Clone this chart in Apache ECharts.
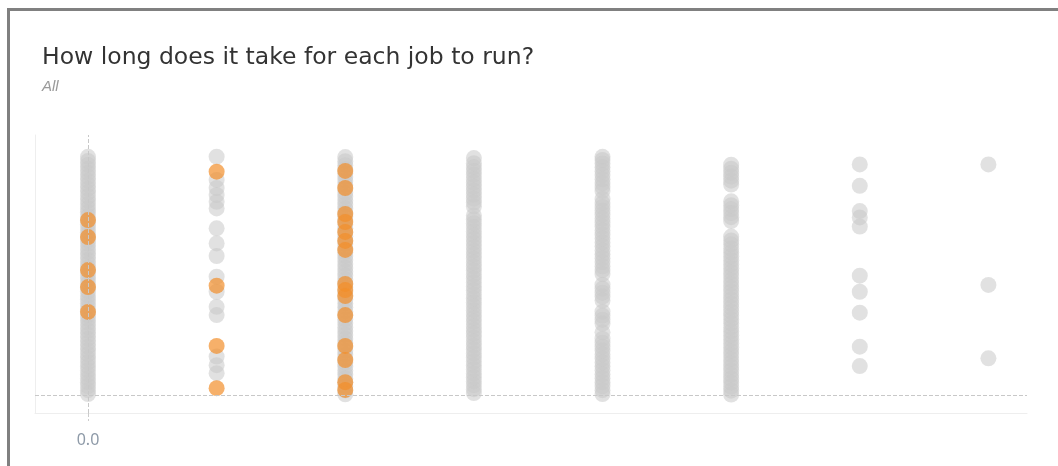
<!DOCTYPE html>
<html>
<head>
<meta charset="utf-8">
<script src="https://cdn.jsdelivr.net/npm/echarts@6/dist/echarts.min.js"></script>
<style>
  html, body { margin: 0; padding: 0; background: #fff; }
  .frame {
    position: absolute; left: 7px; top: 8px; width: 1051px; height: 458px;
    border-top: 3px solid #808080; border-left: 3px solid #808080;
  }
  #main { position: absolute; left: 0; top: 0; width: 1058px; height: 466px; }
</style>
</head>
<body>
<div class="frame"></div>
<div id="main"></div>
<script>
// job index per column (x axis), run time values (y axis)
const jobs = [0, 1, 2, 3, 4, 5, 6, 7]

// grey dots: all runs of each job
const grey0 = [0.4, 2, 3.7, 5.3, 6.9, 8.5, 10.2, 11.8, 13.4, 15, 16.7, 18.3, 19.9, 21.5, 23.2, 24.8, 26.4, 28, 29.7, 31.3, 32.9, 34.5, 36.2, 37.8, 39.4, 41, 42.7, 44.3, 45.9, 47.5, 49.2, 50.8, 52.4, 54, 55.7, 57.3, 58.9, 60.5, 62.2, 63.8, 65.4, 67, 68.7, 70.3, 71.9, 73.5, 75.2, 76.8, 78.4, 80, 81.7, 83.3, 84.9, 86.5, 88.2, 89.8, 91.4, 93, 94.7, 96.3, 98]
const grey1 = [98.1, 88.5, 85.2, 82.3, 79.5, 76.8, 68.6, 62.4, 57.2, 48.7, 42.5, 36.3, 32.9, 15.8, 12.3, 9]
const grey2 = [0.3, 1.9, 3.6, 5.2, 6.8, 8.4, 10.1, 11.7, 13.3, 14.9, 16.6, 18.2, 19.8, 21.4, 23.1, 24.7, 26.3, 27.9, 29.6, 31.2, 32.8, 34.4, 36.1, 37.7, 39.3, 40.9, 42.6, 44.2, 45.8, 47.4, 49.1, 50.7, 52.3, 53.9, 55.6, 57.2, 58.8, 60.4, 62.1, 63.7, 65.3, 66.9, 68.6, 70.2, 71.8, 73.4, 75.1, 76.7, 78.3, 79.9, 81.6, 83.2, 84.8, 86.4, 88.1, 89.7, 91.3, 92.9, 94.6, 96.2, 97.9]
const grey3 = [0.8, 2.4, 4.1, 5.7, 7.3, 8.9, 10.6, 12.2, 13.8, 15.4, 17.1, 18.7, 20.3, 21.9, 23.6, 25.2, 26.8, 28.4, 30.1, 31.7, 33.3, 34.9, 36.6, 38.2, 39.8, 41.4, 43.1, 44.7, 46.3, 47.9, 49.6, 51.2, 52.8, 54.4, 56.1, 57.7, 59.3, 60.9, 62.6, 64.2, 65.8, 67.4, 69.1, 70.7, 72.3, 73.9, 77.6, 79.2, 80.8, 82.4, 84.1, 85.7, 87.3, 88.9, 90.6, 92.2, 93.8, 95.4, 97.5]
const grey4 = [0.4, 2, 3.7, 5.3, 6.9, 8.5, 10.2, 11.8, 13.4, 15, 16.7, 18.3, 19.9, 21.5, 23.2, 25.8, 29.4, 31, 32.7, 34.3, 38.9, 40.5, 42.1, 43.8, 45.4, 49.8, 51.4, 53, 54.7, 56.3, 57.9, 59.5, 61.2, 62.8, 64.4, 66, 67.7, 69.3, 70.9, 72.5, 74.2, 75.8, 77.4, 79, 80.7, 84, 85.6, 87.2, 88.8, 90.5, 92.1, 93.7, 95.3, 96.7, 98]
const grey5 = [0.2, 1.8, 3.5, 5.1, 6.7, 8.3, 10, 11.6, 13.2, 14.8, 16.5, 18.1, 19.7, 21.3, 23, 24.6, 26.2, 27.8, 29.5, 31.1, 32.7, 34.3, 36, 37.6, 39.2, 40.8, 42.5, 44.1, 45.7, 47.3, 49, 50.6, 52.2, 53.8, 55.5, 57.1, 58.7, 60.3, 62, 63.6, 65.2, 71.6, 73.2, 74.9, 76.5, 78.1, 79.7, 86.6, 88.2, 89.9, 91.5, 93.1, 94.8]
const grey6 = [94.9, 86.1, 75.7, 73.1, 69.3, 49.1, 42.5, 33.9, 19.9, 11.9]
const grey7 = [94.9, 45.3, 15.1]

// orange dots: highlighted runs
const orange0 = [72, 65, 51.4, 44.4, 34.2]
const orange1 = [91.9, 45, 20.2, 2.8]
const orange2 = [92.2, 85.2, 74.5, 71.2, 67.1, 63.4, 59.7, 45.7, 43.2, 40.7, 32.9, 20.2, 14.4, 5.3, 2.1]

const greyCols = [grey0, grey1, grey2, grey3, grey4, grey5, grey6, grey7]
const orangeCols = [orange0, orange1, orange2]

function points(cols) {
  const out = []
  cols.forEach((vals, i) => {
    vals.forEach(v => out.push([jobs[i], v]))
  })
  return out
}

const chart = echarts.init(document.getElementById('main'))
chart.setOption({
  animation: false,
  title: {
    text: 'How long does it take for each job to run?',
    subtext: 'All',
    left: 37,
    top: 41,
    itemGap: 9,
    textStyle: { fontFamily: 'DejaVu Sans', fontSize: 23.5, fontWeight: 'normal', color: '#333' },
    subtextStyle: { fontFamily: 'Liberation Sans', fontSize: 15, fontStyle: 'italic', color: '#9a9a9a' }
  },
  grid: { left: 35, right: 31, top: 135, bottom: 53 },
  xAxis: {
    type: 'value',
    min: -0.412,
    max: 7.3,
    axisLine: { show: true, onZero: false, lineStyle: { color: '#eeeeee' } },
    axisTick: {
      show: true,
      customValues: [0],
      length: 8,
      lineStyle: { color: '#cccccc', type: 'dashed' }
    },
    axisLabel: {
      customValues: [0],
      formatter: v => v.toFixed(1),
      margin: 19,
      fontFamily: 'Noto Sans',
      fontSize: 16,
      color: '#8e9aa8'
    },
    splitLine: { show: false }
  },
  yAxis: {
    type: 'value',
    min: -7.4,
    max: 107,
    axisLine: { show: true, onZero: false, lineStyle: { color: '#eeeeee' } },
    axisTick: { show: false },
    axisLabel: { show: false },
    splitLine: { show: false }
  },
  series: [
    {
      type: 'scatter',
      symbolSize: 16,
      data: points(greyCols),
      itemStyle: { color: '#c8c8c8', opacity: 0.55 },
      markLine: {
        silent: true,
        symbol: 'none',
        label: { show: false },
        lineStyle: { color: '#c8c8c8', type: 'dashed', width: 1 },
        data: [{ yAxis: 0 }, { xAxis: 0 }]
      }
    },
    {
      type: 'scatter',
      symbolSize: 16,
      data: points(orangeCols),
      itemStyle: { color: '#f28e2b', opacity: 0.7 }
    }
  ]
})
</script>
</body>
</html>
